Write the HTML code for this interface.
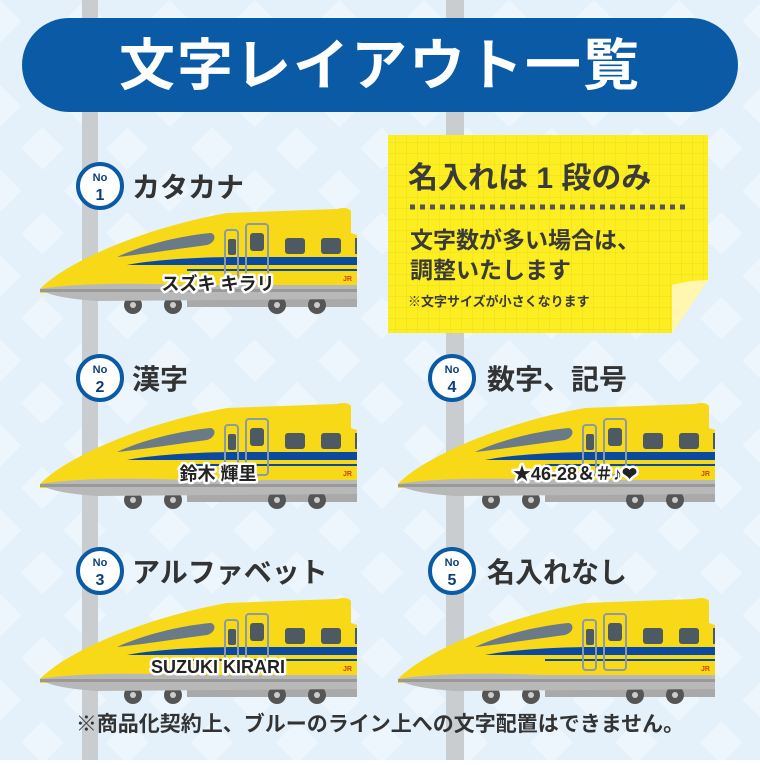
<!DOCTYPE html>
<html><head><meta charset="utf-8"><style>
body{margin:0;width:760px;height:760px;overflow:hidden;font-family:"Liberation Sans","Noto Sans CJK JP",sans-serif;}
</style></head><body>
<svg width="760" height="760" viewBox="0 0 760 760" xmlns="http://www.w3.org/2000/svg" font-family="'Liberation Sans','Noto Sans CJK JP',sans-serif">
<defs>
<pattern id="dia" width="60" height="60" patternUnits="userSpaceOnUse" patternTransform="rotate(45)">
<rect width="60" height="60" fill="#e4f1fa"/><rect width="30" height="30" fill="#edf6fc"/>
</pattern>
<pattern id="grid" width="11" height="11" patternUnits="userSpaceOnUse">
<rect width="11" height="11" fill="#fcee21"/><path d="M11 0V11H0" fill="none" stroke="#e9d81a" stroke-width="0.8"/>
</pattern>
<g id="train">
<path d="M150 86 L320 86 L320 102 L150 102Z" fill="#a9a9a9"/>
<circle cx="96" cy="100" r="9" fill="#555"/><circle cx="136" cy="100" r="9" fill="#555"/>
<circle cx="240" cy="100" r="9" fill="#555"/><circle cx="280" cy="100" r="9" fill="#555"/>
<circle cx="96" cy="100" r="3" fill="#ccc"/><circle cx="136" cy="100" r="3" fill="#ccc"/>
<circle cx="240" cy="100" r="3" fill="#ccc"/><circle cx="280" cy="100" r="3" fill="#ccc"/>
<path d="M3 84 C30 56 110 22 190 8 L300 4 C306 2 312 3 314 6 L314 28 L320 30 L320 88 L3 88Z" fill="#f7d917"/>
<path d="M3 84 C40 78 100 78 150 80 L320 80 L320 94 L60 96 C30 94 10 90 3 84Z" fill="#b8b8b8"/>
<path d="M3 84 L320 84 L320 87 L3 87Z" fill="#999"/>
<path d="M80 52 C110 38 150 30 174 28 C180 30 178 38 170 40 C140 44 100 50 80 52Z" fill="#6a7a86"/>
<path d="M90 60 C120 54 170 52 200 52 L320 52 L320 60 L200 60 C160 60 120 60 90 60Z" fill="#0a4aa0"/>
<path d="M150 64 L320 64 L320 66 L150 66Z" fill="#0a4aa0"/>
<rect x="188" y="25" width="13" height="50" rx="3" fill="none" stroke="#8a9aa6" stroke-width="2"/>
<rect x="209" y="19" width="22" height="56" rx="3" fill="none" stroke="#8a9aa6" stroke-width="2"/>
<rect x="191" y="34" width="8" height="16" rx="2" fill="#4e5a62"/>
<rect x="213" y="28" width="14" height="18" rx="3" fill="#4e5a62"/>
<rect x="248" y="33" width="20" height="16" rx="3" fill="#4e5a62"/>
<rect x="284" y="33" width="20" height="16" rx="3" fill="#4e5a62"/>
<rect x="318" y="33" width="2" height="16" fill="#4e5a62"/>
<text x="306" y="76" font-size="7" fill="#d04020" font-weight="bold">JR</text>
</g>
</defs>
<rect width="760" height="760" fill="url(#dia)"/>
<rect x="82" y="0" width="16" height="760" fill="#c9cdd0"/>
<rect x="446" y="0" width="18" height="760" fill="#c9cdd0"/>
<rect x="22" y="18" width="716" height="94" rx="47" fill="#0b5aa6"/>
<text x="380" y="85" text-anchor="middle" font-size="56" font-weight="bold" fill="#fff" letter-spacing="2">文字レイアウト一覧</text>

<g fill="#fff" stroke="#0b5aa6" stroke-width="4">
<circle cx="100" cy="186" r="22"/><circle cx="100" cy="378" r="22"/><circle cx="100" cy="571" r="22"/>
<circle cx="452" cy="378" r="22"/><circle cx="452" cy="571" r="22"/></g>
<g font-weight="bold" fill="#0b3f7a" text-anchor="middle">
<text x="100" y="181" font-size="11">No</text><text x="100" y="200" font-size="16">1</text>
<text x="100" y="373" font-size="11">No</text><text x="100" y="392" font-size="16">2</text>
<text x="100" y="566" font-size="11">No</text><text x="100" y="585" font-size="16">3</text>
<text x="452" y="373" font-size="11">No</text><text x="452" y="392" font-size="16">4</text>
<text x="452" y="566" font-size="11">No</text><text x="452" y="585" font-size="16">5</text>
</g>
<g font-weight="bold" fill="#333" font-size="28">
<text x="132" y="197">カタカナ</text><text x="132" y="389">漢字</text><text x="132" y="582">アルファベット</text>
<text x="487" y="389">数字、記号</text><text x="487" y="582">名入れなし</text>
</g>

<path d="M388 135 H708 V280 L672 333 H388Z" fill="url(#grid)"/>
<path d="M708 280 L672 333 L672 285 Q690 280 708 280Z" fill="#fff7b0"/>
<text x="408" y="188" font-size="30" font-weight="bold" fill="#3a3a3a">名入れは 1 段のみ</text>
<line x1="410" y1="207" x2="686" y2="207" stroke="#555" stroke-width="5" stroke-dasharray="5 5"/>
<text x="410" y="248" font-size="23" font-weight="bold" fill="#3a3a3a">文字数が多い場合は、</text>
<text x="410" y="278" font-size="23" font-weight="bold" fill="#3a3a3a">調整いたします</text>
<text x="408" y="306" font-size="13" font-weight="bold" fill="#3a3a3a">※文字サイズが小さくなります</text>

<use href="#train" x="37" y="205"/>
<use href="#train" x="37" y="400"/>
<use href="#train" x="37" y="595"/>
<use href="#train" x="395" y="400"/>
<use href="#train" x="395" y="595"/>

<g font-size="18" font-weight="bold" text-anchor="middle" fill="#222" stroke="#fff" stroke-width="5" paint-order="stroke" stroke-linejoin="round">
<text x="218" y="290">スズキ キラリ</text>
<text x="218" y="480">鈴木 輝里</text>
<text x="218" y="673">SUZUKI KIRARI</text>
<text x="575" y="480">★46-28＆＃♪❤</text>
</g>
<text x="380" y="731" text-anchor="middle" font-size="21" font-weight="bold" fill="#333">※商品化契約上、ブルーのライン上への文字配置はできません。</text>
</svg>
</body></html>
